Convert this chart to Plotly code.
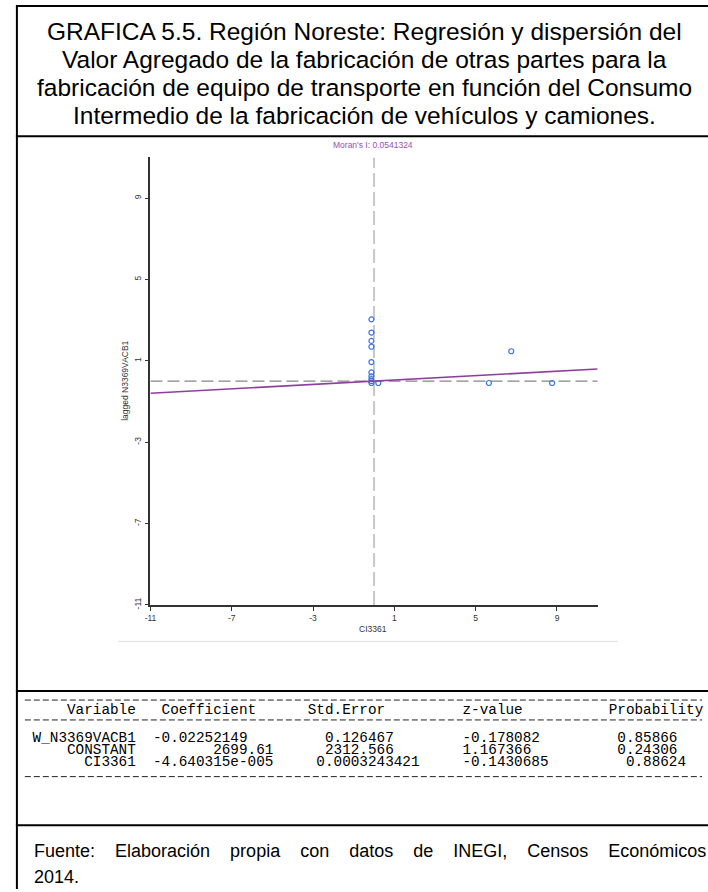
import plotly.graph_objects as go

W, H = 708, 892

# ---------------- data ----------------
moran_i = 0.0541324
ci3361 = [-0.13, -0.13, -0.13, -0.13, -0.13, -0.13, -0.13, -0.13, -0.13, -0.13, 0.21, 5.65, 6.75, 8.76]
lagged = [3.04, 2.39, 1.98, 1.69, 0.94, 0.43, 0.24, 0.10, 0.00, -0.09, -0.09, -0.09, 1.47, -0.09]
axis_range = [-11, 11]
tick_vals = [-11, -7, -3, 1, 5, 9]
tick_text = ["-11", "-7", "-3", "1", "5", "9"]

title_lines = [
    "GRAFICA 5.5. Región Noreste: Regresión y dispersión del",
    "Valor Agregado de la fabricación de otras partes para la",
    "fabricación de equipo de transporte en función del Consumo",
    "Intermedio de la fabricación de vehículos y camiones.",
]
table_header = ["Variable", "Coefficient", "Std.Error", "z-value", "Probability"]
table_vars = ["W_N3369VACB1", "CONSTANT", "CI3361"]
table_coef = ["-0.02252149", "2699.61", "-4.640315e-005"]
table_se = ["0.126467", "2312.566", "0.0003243421"]
table_z = ["-0.178082", "1.167366", "-0.1430685"]
table_p = ["0.85866", "0.24306", "0.88624"]
source_line1 = "Fuente: Elaboración propia con datos de INEGI, Censos Económicos"
source_line2 = "2014."

# character columns of the fixed-width printout (layout, not data)
header_cols = [5, 16, 33, 51, 68]
row_cols = [
    [1, 15, 35, 51, 69],
    [5, 22, 35, 51, 69],
    [7, 15, 34, 51, 70],
]


def px(x):
    return x / W


def py(y):
    return 1 - y / H


fig = go.Figure()

# regression line through the origin with slope = Moran's I
reg_x = list(axis_range)
reg_y = [moran_i * v for v in reg_x]

fig.add_trace(go.Scatter(
    x=ci3361, y=lagged, mode="markers",
    marker=dict(symbol="circle-open", size=5, color="#3B73E6", line=dict(width=1.2)),
    showlegend=False, hoverinfo="skip"))

fig.add_trace(go.Scatter(
    x=reg_x, y=reg_y, mode="lines",
    line=dict(color="#8E3F9E", width=1.6),
    showlegend=False, hoverinfo="skip"))

shapes = []
# mean lines
shapes.append(dict(type="line", xref="x", yref="y", x0=0, x1=0, y0=axis_range[0], y1=axis_range[1],
                   line=dict(color="#C8C8C8", width=2, dash="14px,5px"), layer="below"))
shapes.append(dict(type="line", xref="x", yref="y", x0=axis_range[0], x1=axis_range[1], y0=0, y1=0,
                   line=dict(color="#858585", width=1.4, dash="12px,5px"), layer="below"))


def hline(y, x0, x1, color="black", width=2, dash=None):
    ln = dict(color=color, width=width)
    if dash:
        ln["dash"] = dash
    shapes.append(dict(type="line", xref="paper", yref="paper", x0=px(x0), x1=px(x1), y0=py(y), y1=py(y),
                       line=ln))


def vline(x, y0, y1, color="black", width=2):
    shapes.append(dict(type="line", xref="paper", yref="paper", x0=px(x), x1=px(x), y0=py(y0), y1=py(y1),
                       line=dict(color=color, width=width)))


# frame
vline(11, 6, H + 2)
hline(6, 10, W + 2)
hline(137, 10, W + 2)
hline(695, 10, W + 2)
hline(830, 10, W + 2)
hline(645, 113, 617, color="#E0E0E0", width=1)

# dashed rules of the table printout
for y in [704, 724, 781]:
    hline(y, 19, 702, color="#222222", width=1, dash="6px,3px")

ann = []
title_y = [32, 60, 88, 116.5]
for t, y in zip(title_lines, title_y):
    ann.append(dict(text=t, x=px(362), y=py(y), xref="paper", yref="paper", showarrow=False,
                    xanchor="center", yanchor="middle",
                    font=dict(family="Liberation Sans, Arial", size=24.5, color="black")))

# Moran's I label
ann.append(dict(text="Moran's I: %s" % moran_i, x=px(370), y=py(146), xref="paper", yref="paper",
                showarrow=False, xanchor="center", yanchor="middle",
                font=dict(family="Liberation Sans, Arial", size=8.5, color="#9B4DB2")))
# axis titles
ann.append(dict(text="CI3361", x=px(370), y=py(633), xref="paper", yref="paper", showarrow=False,
                xanchor="center", yanchor="middle",
                font=dict(family="Liberation Sans, Arial", size=8.5, color="#333333")))
ann.append(dict(text="lagged N3369VACB1", x=px(120), y=py(383), xref="paper", yref="paper", showarrow=False,
                xanchor="center", yanchor="middle", textangle=-90,
                font=dict(family="Liberation Sans, Arial", size=8.5, color="#333333")))

mono = dict(family="Liberation Mono, Cousine, DejaVu Sans Mono, monospace", size=14.33, color="black")
NBSP = "\u00a0"


def fixed_row(cells, cols):
    s = ""
    for text, c in zip(cells, cols):
        if len(s) < c:
            s += NBSP * (c - len(s))
        s += text
    return s


def trow(text, y):
    ann.append(dict(text=text, x=px(16.5), y=py(y), xref="paper", yref="paper", showarrow=False,
                    xanchor="left", yanchor="middle", font=mono))


trow(fixed_row(table_header, header_cols), 714)
row_y = [742, 754, 766]
for i, y in enumerate(row_y):
    cells = [table_vars[i], table_coef[i], table_se[i], table_z[i], table_p[i]]
    trow(fixed_row(cells, row_cols[i]), y)

# justified source line (wider word gaps, as in the reference)
src = source_line1.replace(" ", NBSP * 4)
ann.append(dict(text=src, x=px(26), y=py(856), xref="paper", yref="paper", showarrow=False,
                xanchor="left", yanchor="middle",
                font=dict(family="Liberation Sans, Arial", size=18, color="black")))
ann.append(dict(text=source_line2, x=px(26), y=py(882), xref="paper", yref="paper", showarrow=False,
                xanchor="left", yanchor="middle",
                font=dict(family="Liberation Sans, Arial", size=18, color="black")))

axis_common = dict(
    range=axis_range, tickvals=tick_vals, ticktext=tick_text, showgrid=False, zeroline=False,
    showline=True, linecolor="#333333", linewidth=1.5, ticks="outside", ticklen=4, tickwidth=1,
    tickcolor="#333333", tickfont=dict(family="Liberation Sans, Arial", size=8.5, color="#333333"),
    fixedrange=True)

fig.update_layout(
    width=W, height=H, margin=dict(l=0, r=0, t=0, b=0),
    paper_bgcolor="white", plot_bgcolor="white",
    xaxis=dict(domain=[px(145.7), px(596.7)], anchor="y", **axis_common),
    yaxis=dict(domain=[py(608.3), py(158.3)], anchor="x", tickangle=-90, **axis_common),
    shapes=shapes, annotations=ann, showlegend=False)

fig.write_html("out.html")
